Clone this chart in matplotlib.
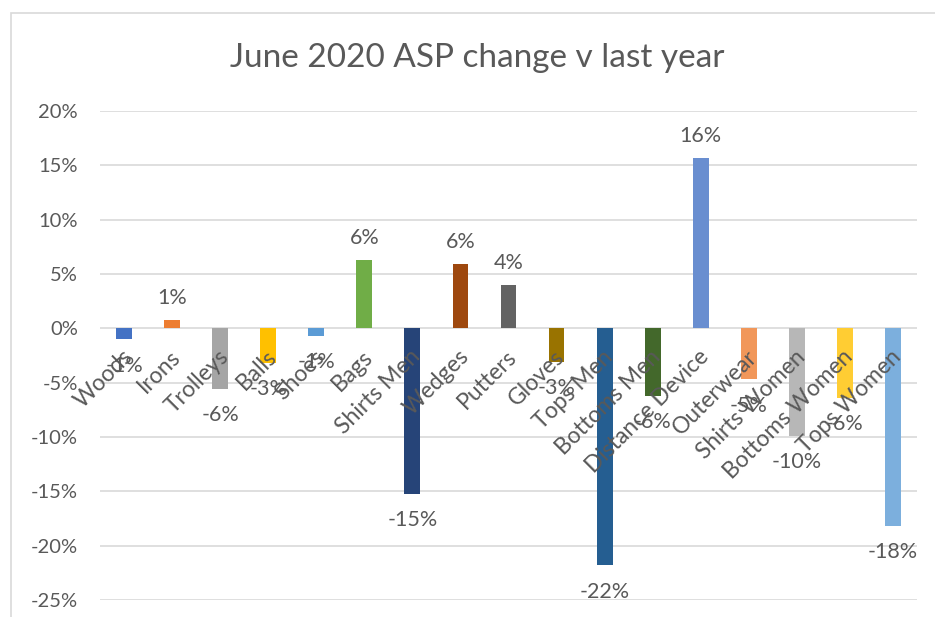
import matplotlib.pyplot as plt
from matplotlib.patches import Rectangle

categories = ["Woods", "Irons", "Trolleys", "Balls", "Shoes", "Bags", "Shirts Men",
              "Wedges", "Putters", "Gloves", "Tops Men", "Bottoms Men",
              "Distance Device", "Outerwear", "Shirts Women", "Bottoms Women",
              "Tops Women"]
values = [-1.0, 0.8, -5.6, -3.2, -0.7, 6.3, -15.2, 5.9, 4.0, -3.1, -21.8, -6.2,
          15.7, -4.7, -9.9, -6.4, -18.2]
colors = ["#4472C4", "#ED7D31", "#A5A5A5", "#FFC000", "#5B9BD5", "#70AD47",
          "#264478", "#9E480E", "#636363", "#997300", "#255E91", "#43682B",
          "#698ED0", "#F1975A", "#B7B7B7", "#FFCD33", "#7CAFDD"]
yticks = [20, 15, 10, 5, 0, -5, -10, -15, -20, -25]

plt.rcParams['font.family'] = ['Lato', 'DejaVu Sans']
txt = "#595959"

fig = plt.figure(figsize=(9.35, 6.17), dpi=100)
fig.patches.append(Rectangle((11 / 935, -0.1), 1.2, (617 - 13) / 617 + 0.1,
                             transform=fig.transFigure, fill=False,
                             edgecolor="#D9D9D9", linewidth=1.2))
ax = fig.add_axes([100 / 935, (617 - 600) / 617, 817 / 935, 489 / 617])

x = range(len(categories))
ax.bar(x, values, width=0.33, color=colors, zorder=3)
ax.set_xlim(-0.5, len(categories) - 0.5)
ax.set_ylim(-25, 20)
ax.set_yticks(yticks)
ax.set_yticklabels([f"{t}%" for t in yticks])
ax.yaxis.grid(True, color="#D9D9D9", linewidth=1.2, zorder=0)
ax.set_xticks([])
for s in ax.spines.values():
    s.set_visible(False)
ax.tick_params(axis='y', length=0, labelsize=14.5, labelcolor=txt, pad=16)

for i, (c, v) in enumerate(zip(categories, values)):
    ax.text(i + 0.1, -2.3, c, rotation=45, rotation_mode='anchor',
            ha='right', va='center', fontsize=16.5, color=txt, zorder=4)
    if v >= 0:
        ax.text(i, v + 1.1, f"{round(v):.0f}%", ha='center', va='bottom',
                fontsize=15.5, color=txt, zorder=4)
    else:
        ax.text(i, v - 1.5, f"{round(v):.0f}%", ha='center', va='top',
                fontsize=15.5, color=txt, zorder=4)

fig.text(477 / 935, 1 - 58 / 617, "June 2020 ASP change v last year",
         ha='center', va='center', fontsize=24, color=txt)

fig.savefig("out.png", dpi=100)
